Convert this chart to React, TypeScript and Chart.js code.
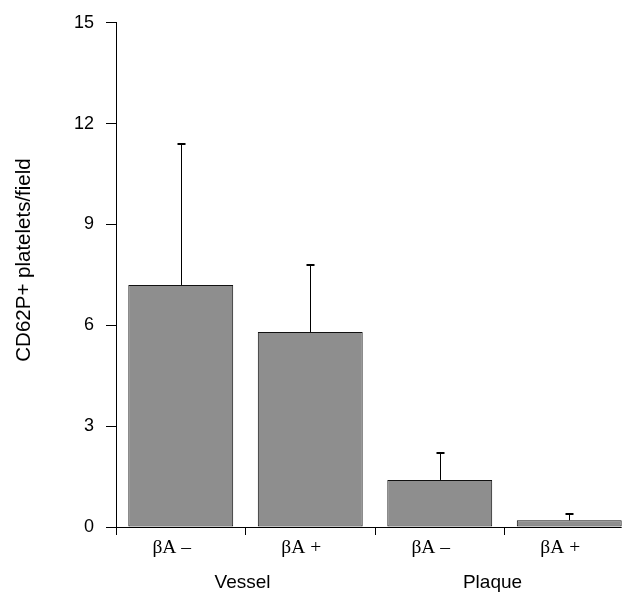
import React, { useEffect, useRef } from "react";
import { Chart, registerables } from "chart.js";

Chart.register(...registerables);

const categories = ["βA –", "βA +", "βA –", "βA +"];
const groups = ["Vessel", "Plaque"];
const groupLabelShift = [-3, -12];
const means = [7.2, 5.8, 1.4, 0.2];
const errors = [4.2, 2.0, 0.8, 0.2];
const yTicks = [0, 3, 6, 9, 12, 15];
const yTitle = "CD62P+ platelets/field";

const SANS = "'Liberation Sans', Arial, Helvetica, sans-serif";
const SERIF = "'Liberation Serif', 'Times New Roman', serif";

const extrasPlugin = {
  id: "extras",
  afterDatasetsDraw(chart: any) {
    const { ctx, chartArea, scales } = chart;
    const meta = chart.getDatasetMeta(0);
    const y = scales.y;
    const x = scales.x;
    ctx.save();
    // error bars
    ctx.strokeStyle = "#000";
    ctx.lineWidth = 1;
    meta.data.forEach((bar: any, i: number) => {
      const cx = Math.round(bar.x) + 0.5;
      const top = Math.round(y.getPixelForValue(means[i] + errors[i]));
      const base = bar.y;
      ctx.beginPath();
      ctx.moveTo(cx, base);
      ctx.lineTo(cx, top);
      ctx.stroke();
      ctx.fillStyle = "#000";
      ctx.fillRect(cx - 4, top - 1, 8, 2);
    });
    // x axis line up to the last bar's right edge
    const last = meta.data[meta.data.length - 1];
    const yb = Math.round(chartArea.bottom) + 0.5;
    ctx.beginPath();
    ctx.moveTo(chartArea.left, yb);
    ctx.lineTo(last.x + last.width / 2, yb);
    ctx.stroke();
    // group labels
    ctx.fillStyle = "#000";
    ctx.font = `19px ${SANS}`;
    ctx.textAlign = "center";
    ctx.textBaseline = "alphabetic";
    groups.forEach((g, gi) => {
      const a = x.getPixelForValue(gi * 2);
      const b = x.getPixelForValue(gi * 2 + 1);
      ctx.fillText(g, (a + b) / 2 + groupLabelShift[gi], 588);
    });
    // y title
    ctx.translate(30, 260);
    ctx.rotate(-Math.PI / 2);
    ctx.font = `20.5px ${SANS}`;
    ctx.fillText(yTitle, 0, 0);
    ctx.restore();
  },
};

export default function App() {
  const ref = useRef<HTMLCanvasElement | null>(null);
  useEffect(() => {
    if (!ref.current) return;
    const chart = new Chart(ref.current, {
      type: "bar",
      data: {
        labels: categories,
        datasets: [
          {
            data: means,
            backgroundColor: "#8e8e8e",
            borderColor: "#111",
            borderWidth: 1,
            borderSkipped: false,
            barPercentage: 0.9,
            categoryPercentage: 0.9,
          },
        ],
      },
      options: {
        animation: false,
        responsive: false,
        devicePixelRatio: 1,
        layout: { padding: { top: 19, right: 6, left: 0, bottom: 0 } },
        plugins: { legend: { display: false }, tooltip: { enabled: false } },
        scales: {
          x: {
            afterFit: (s: any) => {
              s.height = 66;
            },
            grid: {
              drawOnChartArea: false,
              drawTicks: true,
              tickLength: 8,
              color: "#000",
              offset: true,
            },
            border: { display: false },
            ticks: {
              color: "#000",
              font: { family: SERIF, size: 19.5 },
              padding: 1,
              labelOffset: -9,
              maxRotation: 0,
            },
          },
          y: {
            min: 0,
            max: 15,
            afterFit: (s: any) => {
              s.width = 116;
            },
            afterBuildTicks: (s: any) => {
              s.ticks = yTicks.map((v) => ({ value: v }));
            },
            grid: {
              drawOnChartArea: false,
              drawTicks: true,
              tickLength: 10,
              color: "#000",
            },
            border: { display: true, color: "#000", width: 1 },
            ticks: {
              color: "#000",
              font: { family: SANS, size: 18 },
              padding: 12,
            },
          },
        },
      },
      plugins: [extrasPlugin],
    });
    return () => chart.destroy();
  }, []);
  return (
    <div
      style={{
        position: "absolute",
        left: 0,
        top: 0,
        width: 630,
        height: 593,
        overflow: "hidden",
        background: "#fff",
      }}
    >
      <canvas ref={ref} width={640} height={593} style={{ display: "block" }} />
    </div>
  );
}
